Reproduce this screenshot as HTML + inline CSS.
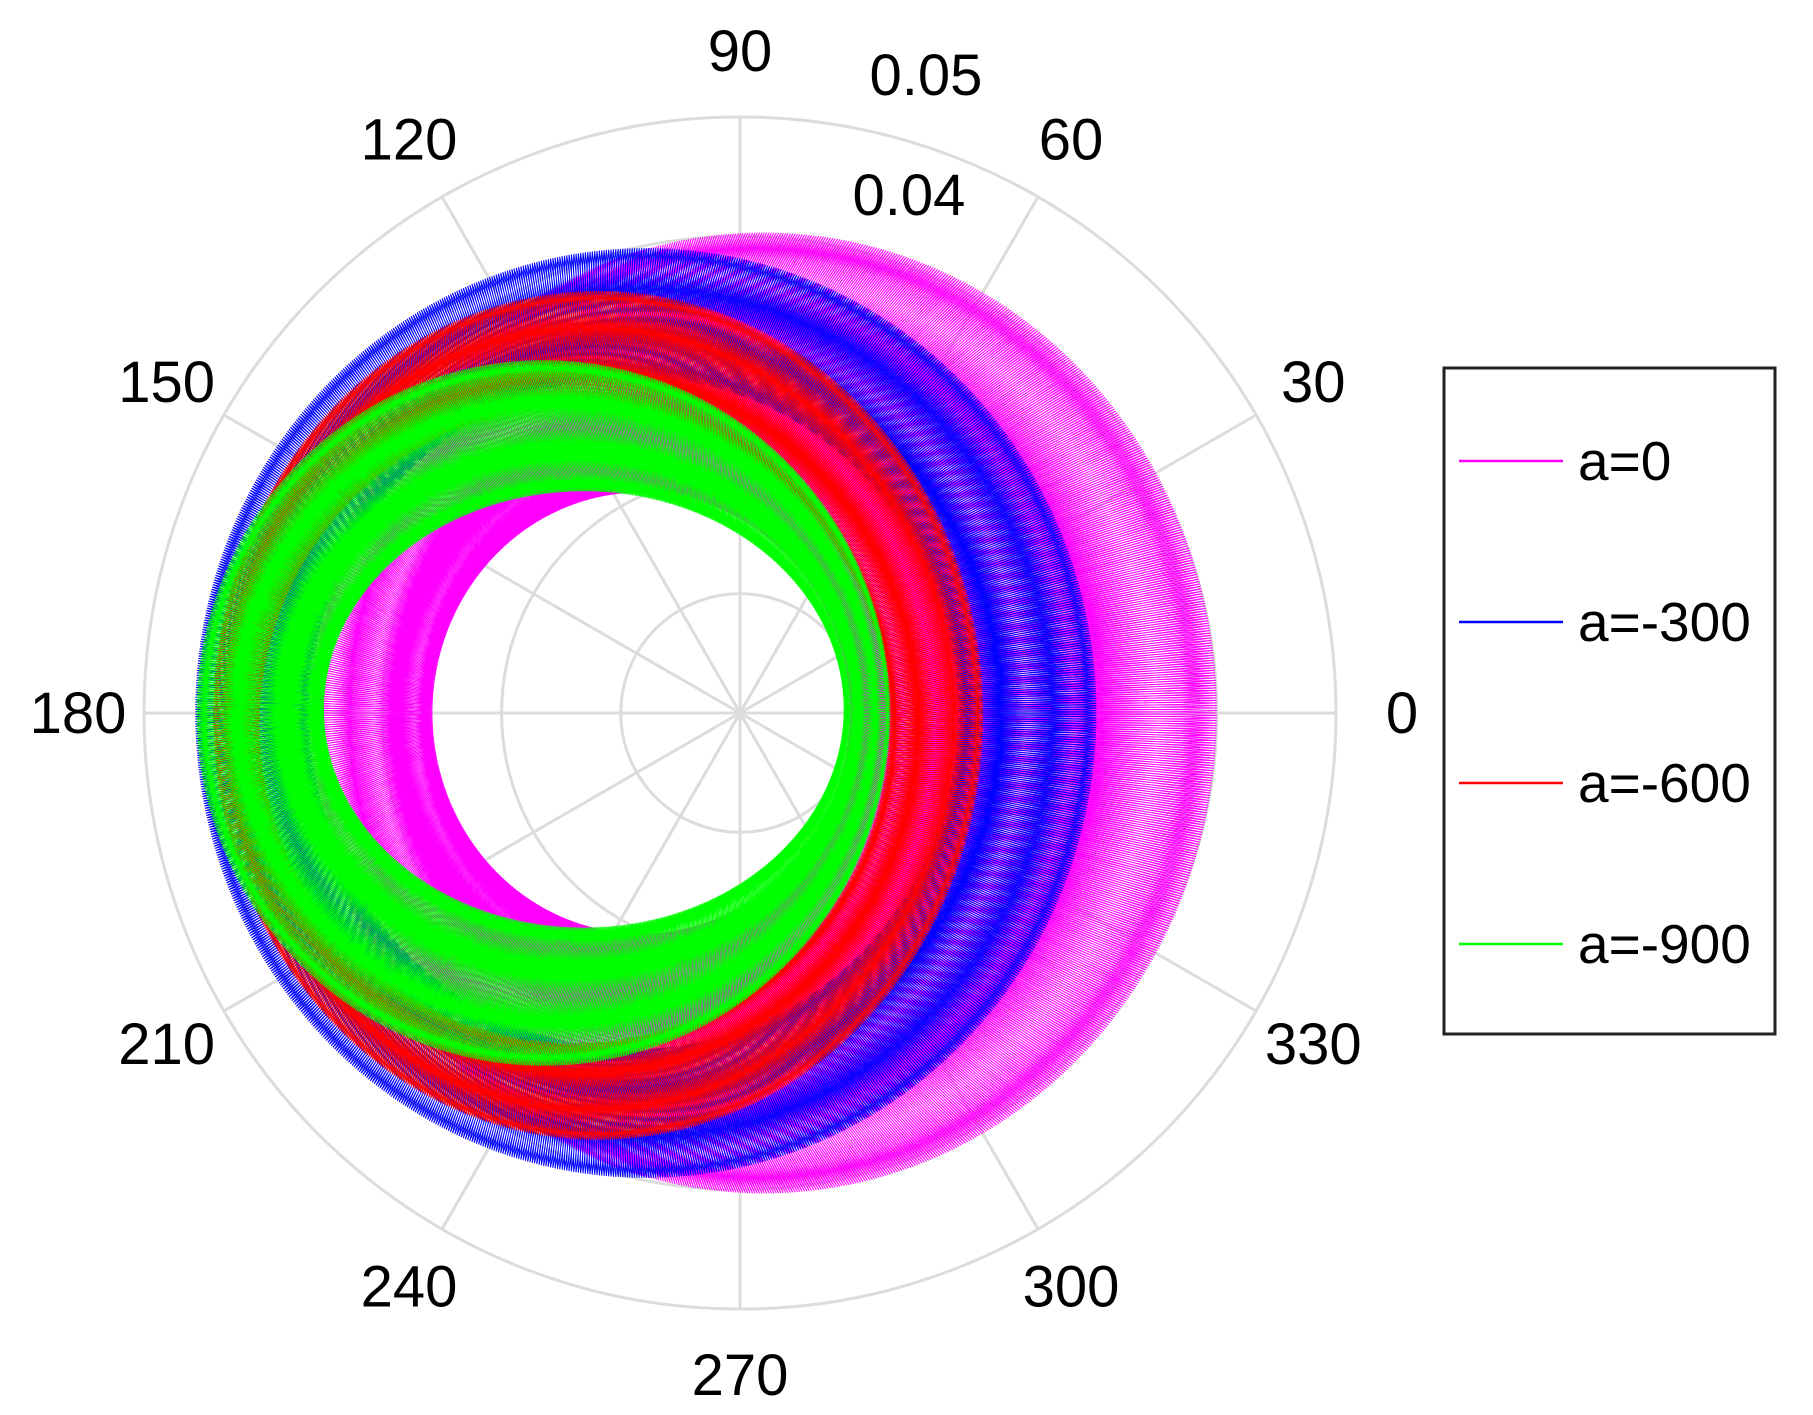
<!DOCTYPE html>
<html><head><meta charset="utf-8"><style>
html,body{margin:0;padding:0;background:#fff;}
svg{display:block;font-family:"Liberation Sans",Arial,sans-serif;}
</style></head><body>
<svg id="chart" width="1813" height="1415" viewBox="0 0 1813 1415">
<g id="grid"></g>
<g id="series"></g>
<g id="labels"></g>
<g id="legend">
<rect x="1444" y="368" width="331" height="666" fill="#fff" stroke="#222" stroke-width="3"/>
</g>
</svg>
<script>
// Data
const seriesNames = ['a=0','a=-300','a=-600','a=-900'];
const seriesColors = ['#ff00ff','#0000ff','#ff0000','#00ff00'];
// outer boundary ellipse [cx, cy, rx, ry] in data units (r axis)
const outerCx = [0.0020, -0.0079, -0.0119, -0.0165];
const outerCy = [0.0000, 0.0000, -0.0002, 0.0000];
const outerRx = [0.0380, 0.0378, 0.0323, 0.0291];
const outerRy = [0.0403, 0.0390, 0.0356, 0.0296];
// inner boundary ellipse
const innerCx = [-0.0083, -0.0089, -0.0139, -0.0131];
const innerCy = [0.0000, 0.0000, -0.0010, 0.0003];
const innerRx = [0.0175, 0.0272, 0.0264, 0.0218];
const innerRy = [0.0185, 0.0282, 0.0267, 0.0183];
const angleTicks = [0,30,60,90,120,150,180,210,240,270,300,330];
const radialTicks = [0.01,0.02,0.03,0.04,0.05];
const radialLabels = ['0.04','0.05'];

const NS='http://www.w3.org/2000/svg';
const CX=740, CY=713, RMAX=0.05, RPX=596;
function px(x){return CX + x/RMAX*RPX;}
function py(y){return CY - y/RMAX*RPX;}
function mk(tag,attrs,parent){const e=document.createElementNS(NS,tag);for(const k in attrs)e.setAttribute(k,attrs[k]);parent.appendChild(e);return e;}

const grid=document.getElementById('grid');
radialTicks.forEach((r,i)=>{
  const c=mk('circle',{cx:CX,cy:CY,r:r/RMAX*RPX,fill:'none',stroke:'#dcdcdc','stroke-width':3},grid);
  
  
});
angleTicks.forEach(a=>{
  const t=a*Math.PI/180;
  const l=mk('line',{x1:CX,y1:CY,x2:CX+RPX*Math.cos(t),y2:CY-RPX*Math.sin(t),stroke:'#dcdcdc','stroke-width':3},grid);
  
  
});

const sg=document.getElementById('series');
seriesNames.forEach((nm,i)=>{
  const turns=4, N=300.25, osc=N*turns, steps=Math.round(osc*10);
  let d='';
  for(let s=0;s<=steps;s++){
    const phi=s/steps*turns*2*Math.PI;
    const w=(1+Math.cos(N*phi))/2;
    const ox=outerCx[i]+outerRx[i]*Math.cos(phi), oy=outerCy[i]+outerRy[i]*Math.sin(phi);
    const ix=innerCx[i]+innerRx[i]*Math.cos(phi), iy=innerCy[i]+innerRy[i]*Math.sin(phi);
    const x=ix+(ox-ix)*w, y=iy+(oy-iy)*w;
    d+=(s?'L':'M')+px(x).toFixed(1)+' '+py(y).toFixed(1);
  }
  const p=mk('path',{d:d,fill:'none',stroke:seriesColors[i],'stroke-width':1},sg);
  
  
});

const lg=document.getElementById('labels');
angleTicks.forEach(a=>{
  const t=a*Math.PI/180, R=662;
  const tx=mk('text',{x:CX+R*Math.cos(t),y:CY-R*Math.sin(t)+20,'font-size':58,'text-anchor':'middle',fill:'#000'},lg);
  tx.textContent=String(a);
  
  
});
const rlPos=[[909,215],[926,95]];
radialLabels.forEach((s,i)=>{
  const tx=mk('text',{x:rlPos[i][0],y:rlPos[i][1],'font-size':58,'text-anchor':'middle',fill:'#000'},lg);
  tx.textContent=s;
  
  
});

const leg=document.getElementById('legend');
seriesNames.forEach((nm,i)=>{
  const y=461+i*161;
  const l=mk('line',{x1:1459,y1:y,x2:1563,y2:y,stroke:seriesColors[i],'stroke-width':2.5},leg);
  
  
  const t=mk('text',{x:1578,y:y+19,'font-size':55,fill:'#000'},leg);
  t.textContent=nm;
  
  
});
</script>
</body></html>
